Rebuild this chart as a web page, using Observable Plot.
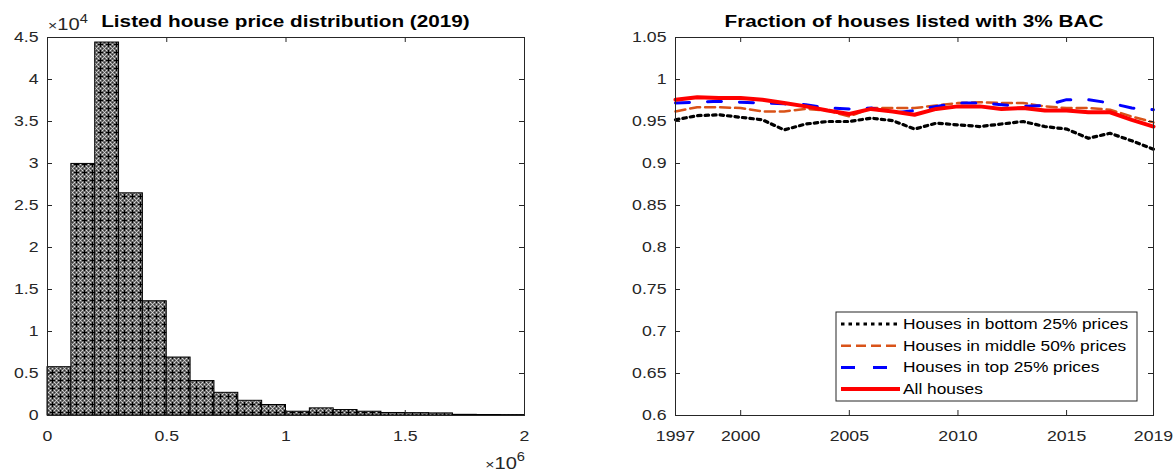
<!DOCTYPE html>
<html>
<head>
<meta charset="utf-8">
<script src="https://cdn.jsdelivr.net/npm/d3@7"></script>
<script src="https://cdn.jsdelivr.net/npm/@observablehq/plot@0.6"></script>
<style>
  body { margin: 0; background: #fff; }
  #wrap { position: relative; width: 1174px; height: 474px; overflow: hidden; }
  #wrap svg { position: absolute; top: 0; }
</style>
</head>
<body>
<div id="wrap"></div>
<script>
// ---- Left panel: listed house price distribution, 2019 ----
const priceBinStart = [0, 100000, 200000, 300000, 400000, 500000, 600000, 700000, 800000, 900000,
  1000000, 1100000, 1200000, 1300000, 1400000, 1500000, 1600000, 1700000, 1800000, 1900000];
const priceBinWidth = 100000;
const listingCounts = [5750, 29950, 44400, 26450, 13600, 6900, 4100, 2700, 1750, 1250,
  450, 850, 650, 450, 300, 280, 250, 80, 60, 50];
const priceTicks = [0, 500000, 1000000, 1500000, 2000000];
const countTicks = [0, 5000, 10000, 15000, 20000, 25000, 30000, 35000, 40000, 45000];

// ---- Right panel: fraction of houses listed with a 3% buyer agent commission ----
const years = [1997, 1998, 1999, 2000, 2001, 2002, 2003, 2004, 2005, 2006, 2007, 2008,
  2009, 2010, 2011, 2012, 2013, 2014, 2015, 2016, 2017, 2018, 2019];
const bottom25 = [0.952, 0.957, 0.958, 0.955, 0.952, 0.940, 0.947, 0.950, 0.950, 0.954, 0.951, 0.941,
  0.948, 0.946, 0.944, 0.947, 0.950, 0.944, 0.941, 0.930, 0.936, 0.927, 0.917];
const middle50 = [0.962, 0.967, 0.967, 0.966, 0.962, 0.962, 0.965, 0.963, 0.956, 0.966, 0.966, 0.966,
  0.969, 0.972, 0.973, 0.972, 0.972, 0.968, 0.966, 0.966, 0.964, 0.956, 0.949];
const top25 = [0.972, 0.973, 0.974, 0.973, 0.972, 0.971, 0.970, 0.966, 0.965, 0.966, 0.960, 0.963,
  0.968, 0.972, 0.972, 0.970, 0.968, 0.969, 0.976, 0.976, 0.972, 0.966, 0.964];
const allHouses = [0.976, 0.979, 0.978, 0.978, 0.976, 0.972, 0.968, 0.963, 0.959, 0.965, 0.962, 0.958,
  0.965, 0.968, 0.968, 0.965, 0.966, 0.963, 0.963, 0.961, 0.961, 0.952, 0.944];
const yearTicks = [1997, 2000, 2005, 2010, 2015, 2019];
const fractionTicks = [0.6, 0.65, 0.7, 0.75, 0.8, 0.85, 0.9, 0.95, 1, 1.05];

const seriesNames = ["Houses in bottom 25% prices", "Houses in middle 50% prices",
  "Houses in top 25% prices", "All houses"];
const seriesValues = [bottom25, middle50, top25, allHouses];
const seriesStyles = [
  {stroke: "#000000", strokeWidth: 3.2, strokeDasharray: "3.5,4"},
  {stroke: "#D95319", strokeWidth: 2.5, strokeDasharray: "10,5"},
  {stroke: "#0000FF", strokeWidth: 3, strokeDasharray: "14,18"},
  {stroke: "#FF0000", strokeWidth: 4, strokeDasharray: null}
];

// ---- shared layout ----
const W = 587, H = 474, mTop = 37, mBottom = 59;
const plotH = H - mTop - mBottom;
const TICK = 5;           // inward tick length
const STRETCH = 1.22;     // horizontal text stretch
const axisColor = "#262626";
const font = "'Liberation Sans', Arial, sans-serif";

function stretchText(svg) {
  d3.select(svg).selectAll("text").each(function () {
    const t = this.getAttribute("transform") || "";
    const x = parseFloat(this.getAttribute("x")) || 0;
    this.setAttribute("transform", `${t} translate(${x},0) scale(${STRETCH},1) translate(${-x},0)`);
  });
}

function multiplier(sel, x, y, anchor, power) {
  const t = sel.append("text").attr("x", x).attr("y", y).attr("text-anchor", anchor)
    .attr("font-family", font).attr("fill", axisColor);
  t.append("tspan").attr("font-size", 13).text("×");
  t.append("tspan").attr("font-size", 16.5).text("10");
  t.append("tspan").attr("font-size", 12).attr("dy", -7.5).text(power);
  return t;
}

const wrap = document.getElementById("wrap");

// Histogram
const histL = 47, histR = 63;
const histW = W - histL - histR;
const bins = priceBinStart.map((x0, i) => ({x1: x0, x2: x0 + priceBinWidth, count: listingCounts[i]}));

const hist = Plot.plot({
  width: W, height: H,
  marginLeft: histL, marginRight: histR, marginTop: mTop, marginBottom: mBottom,
  style: {fontFamily: font, fontSize: "14.5px", color: axisColor, background: "transparent", overflow: "visible"},
  x: {domain: [0, 2000000], ticks: priceTicks, tickFormat: d => String(d / 1e6), tickSize: 0, tickPadding: 15, label: null},
  y: {domain: [0, 45000], ticks: countTicks, tickFormat: d => String(d / 1e4), tickSize: 0, tickPadding: 9, label: null},
  marks: [
    Plot.rectY(bins, {x1: "x1", x2: "x2", y: "count", fill: "url(#checks)", stroke: "#000", strokeWidth: 1}),
    Plot.ruleX(priceTicks, {insetTop: plotH - TICK, stroke: axisColor}),
    Plot.ruleX(priceTicks, {insetBottom: plotH - TICK, stroke: axisColor}),
    Plot.ruleY(countTicks, {insetRight: histW - TICK, stroke: axisColor}),
    Plot.ruleY(countTicks, {insetLeft: histW - TICK, stroke: axisColor}),
    Plot.frame({stroke: axisColor})
  ]
});
hist.style.left = "0px";
d3.select(hist).insert("defs", ":first-child").html(`
  <pattern id="checks" width="8" height="8" patternUnits="userSpaceOnUse">
    <rect width="8" height="8" fill="#6e6e6e"/>
    <path d="M0,0h1v1h-1z M2,2h1v1h-1z M6,2h1v1h-1z M2,6h1v1h-1z M6,6h1v1h-1z M0,4h1v1h-1z M4,0h1v1h-1z" fill="#dcdcdc"/>
    <path d="M1,1h1v1h-1z M7,7h1v1h-1z M1,7h1v1h-1z M7,1h1v1h-1z" fill="#b4b4b4"/>
    <path d="M4,2h1v5h-1z M2,4h5v1h-5z" fill="#000"/>
    <path d="M0,2h1v1h-1z M2,0h1v1h-1z M6,0h1v1h-1z M0,6h1v1h-1z" fill="#333"/>
  </pattern>`);
const hs = d3.select(hist);
hs.append("text").attr("x", histL + histW / 2).attr("y", 27.3)
  .attr("text-anchor", "middle").attr("font-family", font).attr("font-weight", "bold")
  .attr("font-size", 17).attr("fill", "#000").text("Listed house price distribution (2019)");
// axis multipliers
multiplier(hs, 48, 30.5, "start", "4");
multiplier(hs, histL + histW + 1, 469, "end", "6");
stretchText(hist);
wrap.appendChild(hist);

// Line chart
const lineL = 88, lineR = 21;
const lineW = W - lineL - lineR;
const lineData = seriesValues.map((vals, k) => years.map((year, i) => ({year, value: vals[i], series: seriesNames[k]})));

const frac = Plot.plot({
  width: W, height: H,
  marginLeft: lineL, marginRight: lineR, marginTop: mTop, marginBottom: mBottom,
  style: {fontFamily: font, fontSize: "14.5px", color: axisColor, background: "transparent", overflow: "visible"},
  x: {domain: [1997, 2019], ticks: yearTicks, tickFormat: d => String(d), tickSize: 0, tickPadding: 15, label: null},
  y: {domain: [0.6, 1.05], ticks: fractionTicks, tickFormat: d => String(+d.toFixed(2)), tickSize: 0, tickPadding: 9, label: null},
  marks: [
    ...lineData.map((d, k) => Plot.line(d, {x: "year", y: "value", ...seriesStyles[k], strokeLinejoin: "round"})),
    Plot.ruleX(yearTicks, {insetTop: plotH - TICK, stroke: axisColor}),
    Plot.ruleX(yearTicks, {insetBottom: plotH - TICK, stroke: axisColor}),
    Plot.ruleY(fractionTicks, {insetRight: lineW - TICK, stroke: axisColor}),
    Plot.ruleY(fractionTicks, {insetLeft: lineW - TICK, stroke: axisColor}),
    Plot.frame({stroke: axisColor})
  ]
});
frac.style.left = W + "px";
const fs = d3.select(frac);
fs.append("text").attr("x", lineL + lineW / 2).attr("y", 27.3)
  .attr("text-anchor", "middle").attr("font-family", font).attr("font-weight", "bold")
  .attr("font-size", 17).attr("fill", "#000").text("Fraction of houses listed with 3% BAC");

// Legend box in the lower right of the axes
const lg = fs.append("g").attr("transform", "translate(249,312)");
lg.append("rect").attr("width", 301).attr("height", 89).attr("fill", "#fff").attr("stroke", axisColor).attr("stroke-width", 1);
seriesNames.forEach((name, k) => {
  const cy = 12 + k * 21.7;
  const st = seriesStyles[k];
  lg.append("line").attr("x1", 5).attr("x2", 64).attr("y1", cy).attr("y2", cy)
    .attr("stroke", st.stroke).attr("stroke-width", st.strokeWidth)
    .attr("stroke-dasharray", st.strokeDasharray);
  lg.append("text").attr("x", 67).attr("y", cy + 5).attr("text-anchor", "start").attr("font-family", font)
    .attr("font-size", 14.2).attr("fill", "#000").text(name);
});
stretchText(frac);
wrap.appendChild(frac);
</script>
</body>
</html>
